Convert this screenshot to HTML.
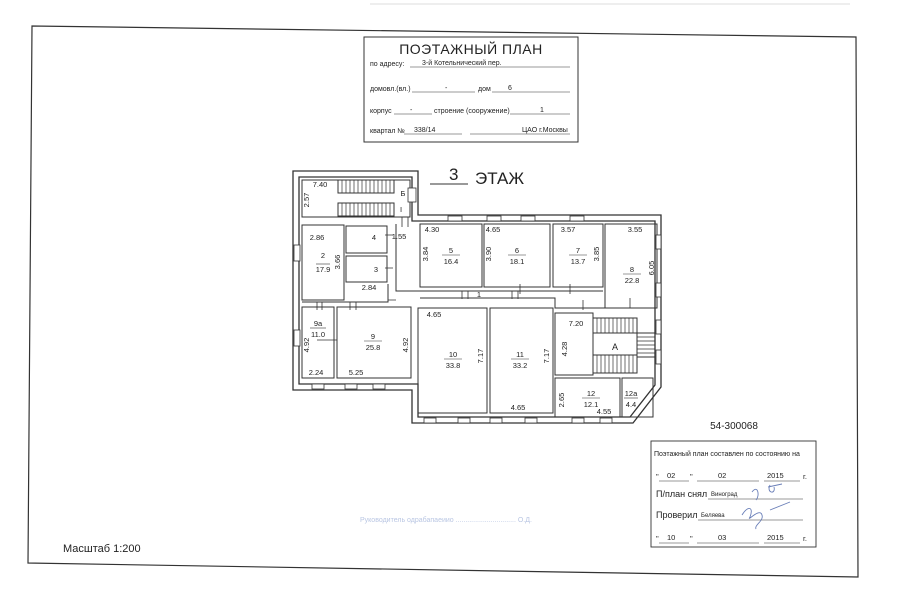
<!DOCTYPE html>
<html><head><meta charset="utf-8"><style>
html,body{margin:0;padding:0;background:#fff;}
svg{display:block;}
text{font-family:"Liberation Sans",sans-serif;fill:#222;}
</style></head><body>
<svg width="900" height="604" viewBox="0 0 900 604" xmlns="http://www.w3.org/2000/svg">
<rect width="900" height="604" fill="#fff"/>
<line x1="370" y1="4" x2="850" y2="4" stroke="#ddd" stroke-width="1"/>
<polygon points="32,26 856,37 858,577 28,563" fill="none" stroke="#333" stroke-width="1.2"/>
<rect x="364" y="37" width="214" height="105" fill="#fff" stroke="#333" stroke-width="1"/>
<text x="471" y="54" font-size="14" text-anchor="middle" letter-spacing="0.5">ПОЭТАЖНЫЙ ПЛАН</text>
<g font-size="7">
<text x="370" y="66">по адресу:</text><line x1="410" y1="67" x2="570" y2="67" stroke="#333" stroke-width="0.6"/>
<text x="422" y="65">3-й Котельнический пер.</text>
<text x="370" y="91">домовл.(вл.)</text><line x1="412" y1="92" x2="475" y2="92" stroke="#333" stroke-width="0.6"/>
<text x="445" y="90">-</text><text x="478" y="91">дом</text><line x1="492" y1="92" x2="570" y2="92" stroke="#333" stroke-width="0.6"/><text x="508" y="90">6</text>
<text x="370" y="113">корпус</text><line x1="394" y1="114" x2="432" y2="114" stroke="#333" stroke-width="0.6"/><text x="410" y="112">-</text>
<text x="434" y="113">строение (сооружение)</text><line x1="510" y1="114" x2="570" y2="114" stroke="#333" stroke-width="0.6"/><text x="540" y="112">1</text>
<text x="370" y="133">квартал №</text><line x1="404" y1="134" x2="462" y2="134" stroke="#333" stroke-width="0.6"/><text x="414" y="132">338/14</text>
<line x1="470" y1="134" x2="570" y2="134" stroke="#333" stroke-width="0.6"/><text x="522" y="132">ЦАО г.Москвы</text>
</g>
<text x="449" y="180" font-size="17" >3</text>
<line x1="430" y1="184" x2="468" y2="184" stroke="#333" stroke-width="1"/>
<text x="475" y="184" font-size="17">ЭТАЖ</text>
<g fill="none" stroke="#333" stroke-width="1.3">
<polygon points="293,171 418,171 418,215 661,215 661,387 633,423 412,423 412,390 293,390"/>
<polygon points="299,177 412,177 412,221 655,221 655,385 630,417 418,417 418,384 299,384"/>
</g>
<g fill="none" stroke="#333" stroke-width="1">
<rect x="302" y="180" width="108" height="37"/>
<rect x="338" y="180" width="56" height="13"/><rect x="338" y="203" width="56" height="13"/>
<rect x="302" y="225" width="42" height="75"/>
<rect x="346" y="226" width="41" height="27"/>
<rect x="346" y="256" width="41" height="26"/>
<polyline points="302,302 388,302 388,284"/>
<rect x="420" y="224" width="62" height="63"/>
<rect x="484" y="224" width="66" height="63"/>
<rect x="553" y="224" width="50" height="63"/>
<rect x="605" y="224" width="52" height="84"/>
<polyline points="396,224 396,291 603,291"/>
<rect x="302" y="307" width="32" height="71"/>
<rect x="337" y="307" width="74" height="71"/>
<rect x="418" y="308" width="69" height="105"/>
<rect x="490" y="308" width="63" height="105"/>
<rect x="555" y="313" width="38" height="62"/>
<rect x="555" y="378" width="65" height="39"/>
<rect x="622" y="378" width="31" height="39"/>
<rect x="593" y="318" width="44" height="15"/>
<rect x="593" y="333" width="44" height="22"/>
<rect x="593" y="355" width="44" height="18"/>
<rect x="637" y="333" width="18" height="24"/>
<polyline points="420,298 555,298 555,308 655,308"/>
</g>
<g stroke="#333" stroke-width="0.7">
<path d="M342 180v13M346 180v13M350 180v13M354 180v13M358 180v13M362 180v13M366 180v13M370 180v13M374 180v13M378 180v13M382 180v13M386 180v13M390 180v13M342 203v13M346 203v13M350 203v13M354 203v13M358 203v13M362 203v13M366 203v13M370 203v13M374 203v13M378 203v13M382 203v13M386 203v13M390 203v13"/>
<path d="M597 318v15M601 318v15M605 318v15M609 318v15M613 318v15M617 318v15M621 318v15M625 318v15M629 318v15M633 318v15M597 355v18M601 355v18M605 355v18M609 355v18M613 355v18M617 355v18M621 355v18M625 355v18M629 355v18M633 355v18"/>
<path d="M637 337h18M637 341h18M637 345h18M637 349h18M637 353h18"/>
</g>
<g fill="#fff" stroke="#333" stroke-width="0.8">
<rect x="408" y="188" width="8" height="14"/>
<rect x="294" y="245" width="6" height="16"/><rect x="294" y="330" width="6" height="16"/>
<rect x="448" y="216" width="14" height="5"/><rect x="487" y="216" width="14" height="5"/><rect x="521" y="216" width="14" height="5"/><rect x="570" y="216" width="14" height="5"/>
<rect x="656" y="235" width="5" height="14"/><rect x="656" y="283" width="5" height="14"/><rect x="656" y="320" width="5" height="14"/><rect x="656" y="350" width="5" height="14"/>
<rect x="312" y="384" width="12" height="5"/><rect x="345" y="384" width="12" height="5"/><rect x="373" y="384" width="12" height="5"/>
<rect x="424" y="418" width="12" height="5"/><rect x="458" y="418" width="12" height="5"/><rect x="490" y="418" width="12" height="5"/><rect x="525" y="418" width="12" height="5"/><rect x="572" y="418" width="12" height="5"/><rect x="600" y="418" width="12" height="5"/>
</g>
<g stroke="#333" stroke-width="0.8">
<path d="M402 217v10M408 217v10M317 302v8M322 302v8M350 302v8M356 302v8M462 291v8M468 291v8M512 291v8M518 291v8M385 235h8M385 268h8M388 300h8M520 284v10M570 284v10M630 298v10M317 340h20M583 300v10"/>
</g>
<g font-size="7.5" text-anchor="middle">
<text x="320" y="187">7.40</text>
<text x="309" y="200" transform="rotate(-90 309 200)">2.57</text>
<text x="403" y="196">Б</text><text x="401" y="212">I</text>
<text x="317" y="240">2.86</text><text x="323" y="258">2</text><text x="323" y="272">17.9</text>
<line x1="316" y1="264" x2="330" y2="264" stroke="#333" stroke-width="0.6"/>
<text x="340" y="262" transform="rotate(-90 340 262)">3.66</text>
<text x="374" y="240">4</text><text x="376" y="272">3</text><text x="399" y="239">1.55</text>
<text x="369" y="290">2.84</text>
<text x="432" y="232">4.30</text><text x="493" y="232">4.65</text><text x="568" y="232">3.57</text><text x="635" y="232">3.55</text>
<text x="428" y="254" transform="rotate(-90 428 254)">3.84</text>
<text x="491" y="254" transform="rotate(-90 491 254)">3.90</text>
<text x="599" y="254" transform="rotate(-90 599 254)">3.85</text>
<text x="654" y="268" transform="rotate(-90 654 268)">6.05</text>
<text x="451" y="253">5</text><line x1="442" y1="255" x2="460" y2="255" stroke="#333" stroke-width="0.6"/><text x="451" y="264">16.4</text>
<text x="517" y="253">6</text><line x1="508" y1="255" x2="526" y2="255" stroke="#333" stroke-width="0.6"/><text x="517" y="264">18.1</text>
<text x="578" y="253">7</text><line x1="569" y1="255" x2="587" y2="255" stroke="#333" stroke-width="0.6"/><text x="578" y="264">13.7</text>
<text x="632" y="272">8</text><line x1="623" y1="274" x2="641" y2="274" stroke="#333" stroke-width="0.6"/><text x="632" y="283">22.8</text>
<text x="479" y="297">1</text>
<text x="318" y="326">9а</text><line x1="310" y1="328" x2="326" y2="328" stroke="#333" stroke-width="0.6"/><text x="318" y="337">11.0</text>
<text x="373" y="339">9</text><line x1="364" y1="341" x2="382" y2="341" stroke="#333" stroke-width="0.6"/><text x="373" y="350">25.8</text>
<text x="309" y="345" transform="rotate(-90 309 345)">4.92</text>
<text x="408" y="345" transform="rotate(-90 408 345)">4.92</text>
<text x="316" y="375">2.24</text><text x="356" y="375">5.25</text>
<text x="434" y="317">4.65</text>
<text x="453" y="357">10</text><line x1="444" y1="359" x2="462" y2="359" stroke="#333" stroke-width="0.6"/><text x="453" y="368">33.8</text>
<text x="520" y="357">11</text><line x1="511" y1="359" x2="529" y2="359" stroke="#333" stroke-width="0.6"/><text x="520" y="368">33.2</text>
<text x="483" y="356" transform="rotate(-90 483 356)">7.17</text>
<text x="549" y="356" transform="rotate(-90 549 356)">7.17</text>
<text x="518" y="410">4.65</text>
<text x="576" y="326">7.20</text>
<text x="567" y="349" transform="rotate(-90 567 349)">4.28</text>
<text x="615" y="350" font-size="9">A</text>
<text x="564" y="400" transform="rotate(-90 564 400)">2.65</text>
<text x="591" y="396">12</text><line x1="582" y1="398" x2="600" y2="398" stroke="#333" stroke-width="0.6"/><text x="591" y="407">12.1</text>
<text x="604" y="414">4.55</text>
<text x="631" y="396">12а</text><line x1="624" y1="398" x2="638" y2="398" stroke="#333" stroke-width="0.6"/><text x="631" y="407">4.4</text>
</g>
<text x="734" y="429" font-size="10" text-anchor="middle">54-300068</text>
<g stroke="#333" fill="none" stroke-width="0.9"><rect x="651" y="441" width="165" height="106"/></g>
<g font-size="7.5">
<text x="654" y="456" font-size="7">Поэтажный план составлен по состоянию на</text>
<text x="656" y="479">"</text><text x="667" y="478">02</text><text x="690" y="479">"</text><text x="718" y="478">02</text><text x="767" y="478">2015</text><text x="803" y="479">г.</text>
<path d="M659 481h30M697 481h62M764 481h36" stroke="#333" stroke-width="0.6"/>
<text x="656" y="497" font-size="9">П/план снял</text><text x="711" y="496" font-size="6">Виноград</text>
<path d="M708 499h95" stroke="#333" stroke-width="0.6"/>
<text x="656" y="518" font-size="9">Проверил</text><text x="701" y="517" font-size="6">Беляева</text>
<path d="M698 520h105" stroke="#333" stroke-width="0.6"/>
<text x="656" y="541">"</text><text x="667" y="540">10</text><text x="690" y="541">"</text><text x="718" y="540">03</text><text x="767" y="540">2015</text><text x="803" y="541">г.</text>
<path d="M659 543h30M697 543h62M764 543h36" stroke="#333" stroke-width="0.6"/>
</g>
<g stroke="#6a7fb8" fill="none" stroke-width="0.9">
<path d="M752 492c6-8 8 4 4 8M770 485c-4 8 6 10 4 2M768 487l14-3"/>
<path d="M742 515c6-10 12-8 8 2c-4 6 10-10 12-2c2 6-8 10-6 14M770 510l20-8"/>
</g>
<text x="360" y="522" font-size="7" style="fill:#b9c6e3">Руководитель одрабапаеиио ............................... О.Д.</text>
<text x="63" y="552" font-size="11">Масштаб 1:200</text>
</svg>
</body></html>
